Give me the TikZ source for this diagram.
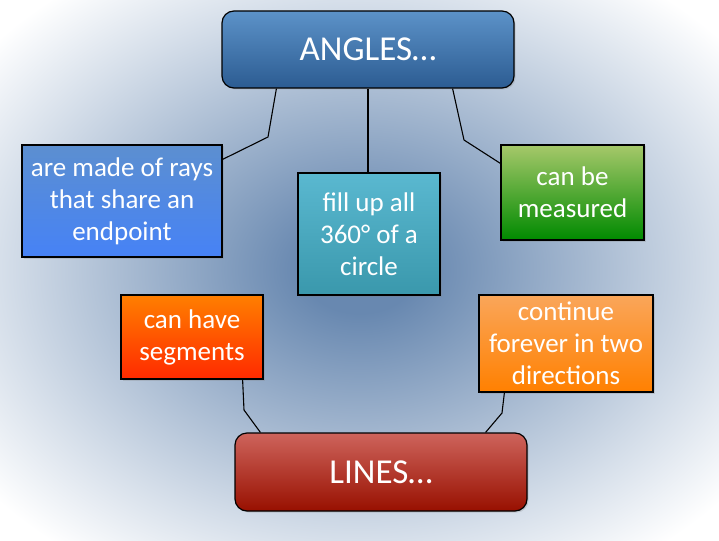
\documentclass[tikz,border=0pt]{standalone}
\usepackage{fontspec}
\setmainfont{Carlito}
\usetikzlibrary{shadows}
\definecolor{bgblue}{RGB}{104,136,176}
\definecolor{bgedge}{RGB}{214,223,234}
\definecolor{anglestop}{RGB}{92,146,200}
\definecolor{anglesbot}{RGB}{44,92,146}
\definecolor{raystop}{RGB}{92,143,208}
\definecolor{raysbot}{RGB}{70,130,246}
\definecolor{filltop}{RGB}{90,184,208}
\definecolor{fillbot}{RGB}{58,152,172}
\definecolor{meastop}{RGB}{166,200,106}
\definecolor{measbot}{RGB}{0,138,0}
\definecolor{segtop}{RGB}{255,127,0}
\definecolor{segbot}{RGB}{255,42,0}
\definecolor{conttop}{RGB}{250,166,90}
\definecolor{contbot}{RGB}{255,128,0}
\definecolor{linestop}{RGB}{206,100,92}
\definecolor{linesbot}{RGB}{152,16,0}
\pgfdeclareradialshading{backdrop}{\pgfpoint{0bp}{0bp}}{color(0bp)=(bgblue); color(4bp)=(bgblue); color(25bp)=(bgedge); color(33bp)=(white); color(50bp)=(white)}

\begin{document}
\begin{tikzpicture}[x=1pt,y=-1pt,
        box/.style={draw=black,line width=1.2pt,text=white,align=center,
            inner sep=0pt,font=\fontsize{27}{32}\selectfont,
            drop shadow={opacity=0.25,shadow xshift=1.5pt,shadow yshift=-1.5pt}},
        title/.style={box,rounded corners=12pt,font=\fontsize{35}{40}\selectfont},
        link/.style={draw=black,line width=1.1pt}]
            \shade [shading=backdrop] (0,0) rectangle (719,540);
            \node [title,top color=anglestop,bottom color=anglesbot,minimum width=292pt,minimum height=77pt] (angles) at (368,49.5) {ANGLES…};
            \node [box,top color=raystop,bottom color=raysbot,minimum width=200pt,minimum height=112pt] (rays) at (122,201) {are made of rays\\that share an\\endpoint};
            \node [box,top color=filltop,bottom color=fillbot,minimum width=142pt,minimum height=122pt] (fill) at (369,234) {fill up all\\360° of a\\circle};
            \node [box,top color=meastop,bottom color=measbot,minimum width=143pt,minimum height=95pt] (measured) at (572.5,192.5) {can be\\measured};
            \node [box,top color=segtop,bottom color=segbot,minimum width=142pt,minimum height=84pt] (segments) at (192,337) {can have\\segments};
            \node [box,top color=conttop,bottom color=contbot,minimum width=174pt,minimum height=97pt] (continue) at (566,343.5) {continue\\forever in two\\directions};
            \node [title,top color=linestop,bottom color=linesbot,minimum width=292pt,minimum height=78pt] (lines) at (381,472) {LINES…};
            \coordinate (bendrays) at (268,137);
            \coordinate (bendmeas) at (464,140);
            \coordinate (bendseg) at (244,410);
            \coordinate (bendcont) at (502,413);
            \draw [link] ([xshift=55pt]angles.south west) -- (bendrays) -- ([yshift=-15pt]rays.north east);
            \draw [link] (angles.south) -- (angles.south |- fill.north);
            \draw [link] ([xshift=-62pt]angles.south east) -- (bendmeas) -- ([yshift=-19pt]measured.north west);
            \draw [link] ([xshift=-21pt]segments.south east) -- (bendseg) -- ([xshift=26pt]lines.north west);
            \draw [link] ([xshift=26pt]continue.south west) -- (bendcont) -- ([xshift=-42pt]lines.north east);
        \end{tikzpicture}
\end{document}
